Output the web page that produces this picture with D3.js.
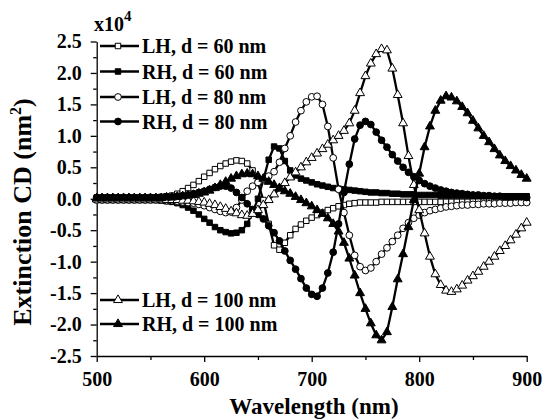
<!DOCTYPE html>
<html><head><meta charset="utf-8">
<script src="https://cdnjs.cloudflare.com/ajax/libs/d3/7.8.5/d3.min.js"></script>
<style>
html,body{margin:0;padding:0;background:#fff;}
svg{display:block;}
</style></head>
<body><svg id="c" width="543" height="419"></svg>
<script>
// Wavelength grid (nm), 5 nm steps
const wavelengths = d3.range(500, 901, 5);
// Extinction CD values (x10^4 nm^2)
const LH60 = [
 0.02,0.02,0.02,0.02,0.02,0.02,0.02,0.02,0.02,0.02,
 0.02,0.02,0.03,0.04,0.05,0.08,0.12,0.17,0.22,0.28,
 0.35,0.41,0.47,0.52,0.56,0.59,0.61,0.60,0.56,0.45,
 0.25,-0.02,-0.40,-0.74,-0.81,-0.70,-0.58,-0.48,-0.41,-0.35,
 -0.30,-0.26,-0.22,-0.18,-0.15,-0.12,-0.10,-0.08,-0.07,-0.06,
 -0.06,-0.06,-0.06,-0.05,-0.05,-0.05,-0.05,-0.05,-0.05,-0.05,
 -0.05,-0.05,-0.05,-0.05,-0.05,-0.05,-0.05,-0.05,-0.05,-0.05,
 -0.04,-0.04,-0.04,-0.04,-0.04,-0.04,-0.04,-0.04,-0.04,-0.04,
 -0.04];
const RH60 = [
 -0.02,-0.02,-0.02,-0.02,-0.02,-0.02,-0.02,-0.02,-0.02,-0.02,
 -0.02,-0.02,-0.03,-0.04,-0.05,-0.07,-0.10,-0.14,-0.19,-0.25,
 -0.32,-0.38,-0.45,-0.50,-0.53,-0.55,-0.54,-0.50,-0.40,-0.22,
 0.00,0.30,0.62,0.83,0.80,0.60,0.45,0.37,0.32,0.29,
 0.26,0.23,0.21,0.19,0.17,0.16,0.15,0.14,0.13,0.12,
 0.11,0.10,0.10,0.09,0.09,0.08,0.08,0.07,0.07,0.07,
 0.06,0.06,0.06,0.06,0.05,0.05,0.05,0.05,0.05,0.05,
 0.04,0.04,0.04,0.04,0.04,0.04,0.04,0.04,0.04,0.04,
 0.04];
const LH80 = [
 -0.02,-0.02,-0.02,-0.02,-0.02,-0.02,-0.02,-0.02,-0.02,-0.02,
 -0.02,-0.02,-0.02,-0.03,-0.03,-0.04,-0.05,-0.06,-0.07,-0.09,
 -0.11,-0.14,-0.17,-0.20,-0.22,-0.21,-0.14,-0.02,0.12,0.20,
 0.26,0.31,0.36,0.43,0.58,0.80,1.00,1.22,1.40,1.54,
 1.62,1.63,1.50,1.15,0.65,0.15,-0.22,-0.58,-0.90,-1.08,
 -1.14,-1.10,-1.00,-0.88,-0.78,-0.68,-0.58,-0.47,-0.38,-0.31,
 -0.26,-0.22,-0.19,-0.17,-0.15,-0.13,-0.12,-0.11,-0.10,-0.10,
 -0.09,-0.09,-0.08,-0.08,-0.08,-0.07,-0.07,-0.07,-0.06,-0.06,
 -0.06];
const RH80 = [
 0.02,0.02,0.02,0.02,0.02,0.02,0.02,0.02,0.02,0.02,
 0.02,0.02,0.02,0.03,0.03,0.04,0.05,0.06,0.08,0.10,
 0.12,0.15,0.18,0.20,0.20,0.17,0.10,0.02,-0.08,-0.17,
 -0.25,-0.32,-0.43,-0.54,-0.67,-0.83,-0.98,-1.12,-1.27,-1.42,
 -1.52,-1.55,-1.42,-1.18,-0.85,-0.40,0.10,0.55,0.95,1.17,
 1.23,1.18,1.06,0.93,0.82,0.70,0.60,0.50,0.42,0.35,
 0.29,0.24,0.20,0.17,0.14,0.12,0.10,0.09,0.08,0.07,
 0.06,0.06,0.05,0.05,0.04,0.04,0.03,0.03,0.03,0.03,
 0.02];
const LH100 = [
 -0.01,-0.01,-0.01,-0.01,-0.01,-0.01,-0.01,-0.01,-0.01,-0.01,
 -0.01,-0.01,-0.01,-0.02,-0.02,-0.02,-0.03,-0.03,-0.04,-0.05,
 -0.06,-0.08,-0.10,-0.13,-0.16,-0.20,-0.23,-0.26,-0.27,-0.24,
 -0.18,-0.10,-0.02,0.07,0.16,0.25,0.34,0.42,0.50,0.58,
 0.65,0.72,0.79,0.86,0.93,1.00,1.08,1.20,1.40,1.68,
 1.95,2.15,2.30,2.38,2.36,2.07,1.65,1.20,0.68,0.22,
 -0.18,-0.55,-0.92,-1.20,-1.37,-1.46,-1.48,-1.44,-1.38,-1.30,
 -1.23,-1.16,-1.08,-1.00,-0.92,-0.83,-0.75,-0.66,-0.57,-0.47,
 -0.38];
const RH100 = [
 0.01,0.01,0.01,0.01,0.01,0.01,0.01,0.01,0.01,0.01,
 0.01,0.01,0.01,0.02,0.02,0.03,0.04,0.05,0.06,0.08,
 0.10,0.13,0.17,0.22,0.27,0.32,0.36,0.39,0.40,0.39,
 0.36,0.32,0.27,0.22,0.17,0.12,0.08,0.03,-0.02,-0.07,
 -0.12,-0.18,-0.24,-0.31,-0.40,-0.52,-0.70,-0.95,-1.22,-1.50,
 -1.75,-1.98,-2.17,-2.25,-2.12,-1.72,-1.28,-0.88,-0.45,-0.02,
 0.40,0.82,1.15,1.40,1.56,1.63,1.61,1.55,1.46,1.36,
 1.24,1.12,1.00,0.90,0.79,0.69,0.60,0.52,0.45,0.38,
 0.32];

const seriesNames = ["LH, d = 60 nm","RH, d = 60 nm","LH, d = 80 nm","RH, d = 80 nm","LH, d = 100 nm","RH, d = 100 nm"];
const seriesValues = [LH60, RH60, LH80, RH80, LH100, RH100];
const seriesShapes = ["square","square","circle","circle","triangle","triangle"];
const seriesFilled = [false,true,false,true,false,true];

const xMajorTicks = [500,600,700,800,900];
const xMinorTicks = [550,650,750,850];
const yMajorTicks = [-2.5,-2.0,-1.5,-1.0,-0.5,0.0,0.5,1.0,1.5,2.0,2.5];
const yMinorTicks = [-2.25,-1.75,-1.25,-0.75,-0.25,0.25,0.75,1.25,1.75,2.25];

const FONT = '"Liberation Serif","Tinos","Times New Roman","Nimbus Roman","DejaVu Serif",serif';

const svg = d3.select("#c");
const x = d3.scaleLinear().domain([500,900]).range([96.7,526.7]);
const y = d3.scaleLinear().domain([-2.5,2.5]).range([356,41.5]);

// axes
const gx = svg.append("g").attr("transform","translate(0,356)");
gx.call(d3.axisBottom(x).tickValues(xMajorTicks).tickSize(6).tickSizeOuter(0).tickFormat(d=>String(d)));
gx.append("g").call(d3.axisBottom(x).tickValues(xMinorTicks).tickSize(4).tickFormat(""))
  .select(".domain").remove();
gx.selectAll("text").attr("dy",null).attr("y",30).attr("font-size",20);

const gy = svg.append("g").attr("transform","translate(96.7,0)");
gy.call(d3.axisLeft(y).tickValues(yMajorTicks).tickSize(6).tickSizeOuter(0).tickFormat(d=>d.toFixed(1)));
gy.append("g").call(d3.axisLeft(y).tickValues(yMinorTicks).tickSize(3.5).tickFormat(""))
  .select(".domain").remove();
gy.selectAll("text").attr("x",-15).attr("font-size",20);
svg.selectAll(".domain, .tick line").attr("stroke","#000").attr("stroke-width",1.3);

// axis titles
svg.append("text").attr("x",314).attr("y",414).attr("text-anchor","middle").attr("font-size",23).text("Wavelength (nm)");
const yt = svg.append("text").attr("transform","translate(31,212) rotate(-90)").attr("text-anchor","middle").attr("font-size",26);
yt.append("tspan").text("Extinction CD (nm");
yt.append("tspan").attr("dy",-10).attr("font-size",16).text("2");
yt.append("tspan").attr("dy",10).text(")");
const ex = svg.append("text").attr("x",94).attr("y",31).attr("font-size",20);
ex.append("tspan").text("x10");
ex.append("tspan").attr("dy",-10).attr("font-size",15).text("4");

const symType = {square:d3.symbolSquare, circle:d3.symbolCircle, triangle:d3.symbolTriangle};
const symSize = {square:30, circle:36, triangle:34};
const line = d3.line().x((d,i)=>x(wavelengths[i])).y(d=>y(d));

const plot = svg.append("g");
seriesValues.forEach((vals,k)=>{
  const g = plot.append("g");
  g.append("path").datum(vals).attr("d",line).attr("fill","none").attr("stroke","#000").attr("stroke-width",2.3);
  g.selectAll("path.m").data(vals).join("path").attr("class","m")
   .attr("transform",(d,i)=>`translate(${x(wavelengths[i])},${y(d)})`)
   .attr("d",d3.symbol().type(symType[seriesShapes[k]]).size(symSize[seriesShapes[k]]))
   .attr("fill",seriesFilled[k]?"#000":"#fff").attr("stroke","#000").attr("stroke-width",1);
});

// legends
const legendRows = [46,71.5,97,121.5,300,324];
seriesNames.forEach((name,k)=>{
  const ly = legendRows[k];
  const g = svg.append("g");
  g.append("line").attr("x1",100).attr("x2",139).attr("y1",ly).attr("y2",ly).attr("stroke","#000").attr("stroke-width",2.5);
  g.append("path").attr("transform",`translate(118,${ly})`)
   .attr("d",d3.symbol().type(symType[seriesShapes[k]]).size(symSize[seriesShapes[k]]))
   .attr("fill",seriesFilled[k]?"#000":"#fff").attr("stroke","#000").attr("stroke-width",1);
  g.append("text").attr("x",142).attr("y",ly+7).attr("font-size",20).text(name);
});

svg.selectAll("text").attr("font-family",FONT).attr("font-weight","bold").attr("fill","#000");
</script></body></html>
